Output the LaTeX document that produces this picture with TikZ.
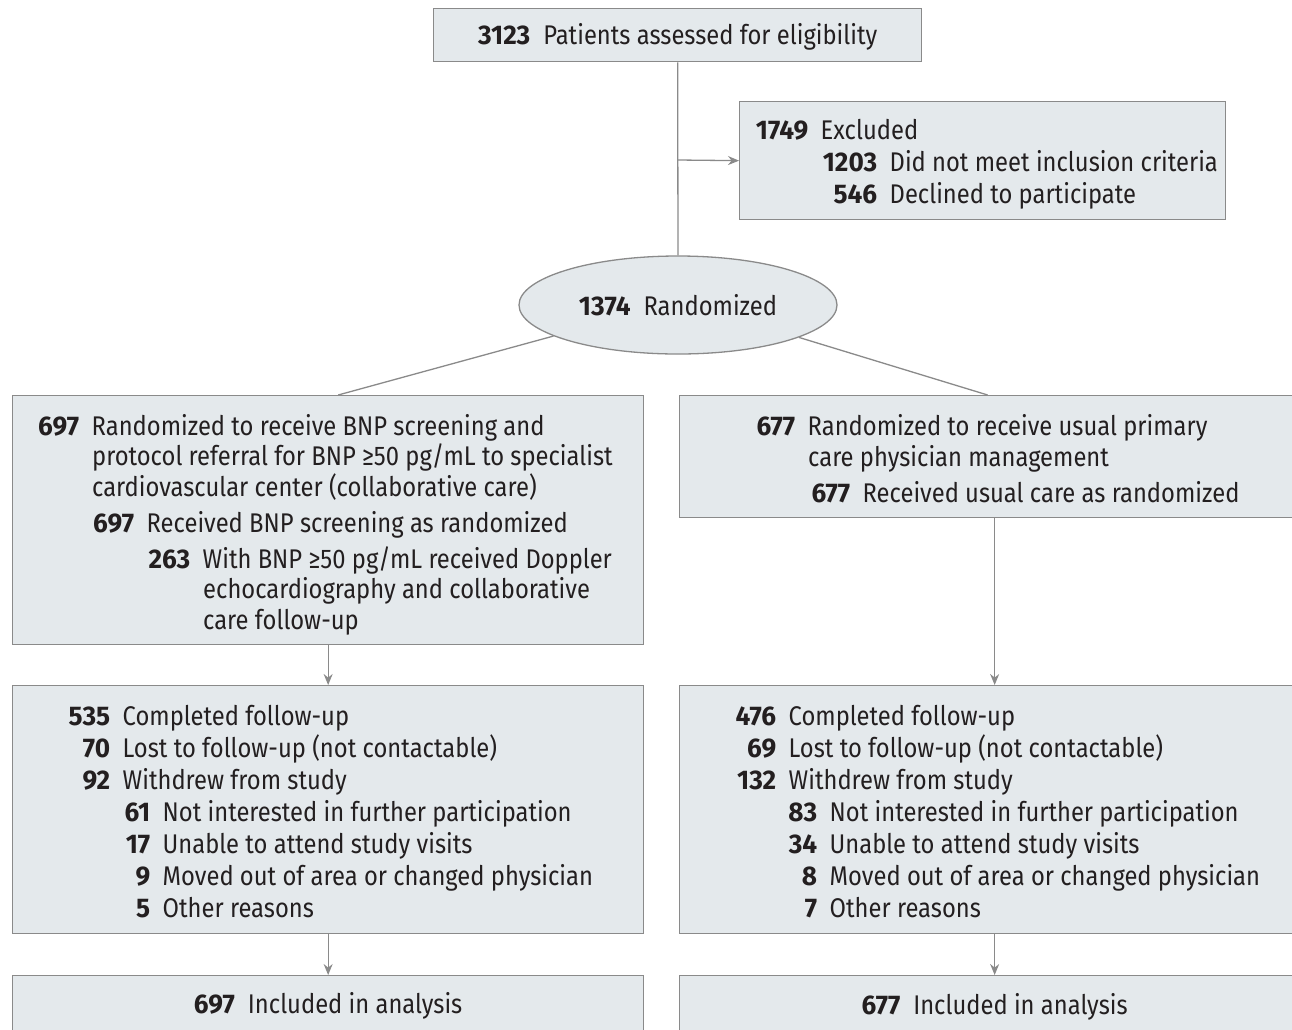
\documentclass[tikz,border=0pt]{standalone}
\usepackage{fontspec}
\setmainfont[FakeStretch=0.88]{Fira Sans}
\newfontfamily\numfont[FakeStretch=0.97]{Fira Sans}
\usetikzlibrary{arrows.meta,shapes.geometric}
\definecolor{boxfill}{HTML}{E4E9EC}
\definecolor{edgegray}{HTML}{8A8A8A}
\definecolor{ink}{HTML}{231F20}
\newcommand{\Nb}[1]{{\numfont\bfseries #1}}
\newcommand{\En}[2]{\makebox[#1][r]{\Nb{#2}}\hspace{12.5pt}}
\newcommand{\Ct}[1]{\hspace*{#1}}
\newcommand{\Lower}[2]{\raisebox{-#1}[\height][\depth]{#2}}
\begin{document}
\begin{tikzpicture}[x=1pt,y=-1pt,
  font=\fontsize{27}{32}\selectfont, text=ink,
  box/.style={draw=edgegray, fill=boxfill, line width=1.3pt, inner sep=0pt, anchor=north west},
  conn/.style={draw=edgegray, line width=1.3pt},
  arr/.style={conn, -{Stealth[length=11pt,width=9pt]}},
  txt/.style={anchor=west, align=left, inner sep=0pt}]
\useasboundingbox (0,0) rectangle (1292,1029);
\clip (0,0) rectangle (1292,1029);

% boxes
\node[box, minimum width=488pt, minimum height=53pt] (top) at (433,8)
  {\Lower{2pt}{\Nb{3123}\hspace{13pt}Patients assessed for eligibility}};
\node[box, minimum width=486pt, minimum height=118pt] (excl) at (739,101) {};
\node[draw=edgegray, fill=boxfill, line width=1.3pt, ellipse, inner sep=0pt,
  minimum width=318pt, minimum height=98pt] (rand) at (678,305)
  {\Nb{1374}\hspace{13pt}Randomized};
\node[box, minimum width=631pt, minimum height=249pt] (L1) at (12,395) {};
\node[box, minimum width=630pt, minimum height=122pt] (R1) at (679,395) {};
\node[box, minimum width=631pt, minimum height=248pt] (L2) at (12,685) {};
\node[box, minimum width=630pt, minimum height=248pt] (R2) at (679,685) {};
\node[box, minimum width=631pt, minimum height=60pt] (L3) at (12,975)
  {\Nb{697}\hspace{13pt}Included in analysis};
\node[box, minimum width=630pt, minimum height=62pt] (R3) at (679,975)
  {\Nb{677}\hspace{13pt}Included in analysis};

% texts
\node[txt] (exclt) at (751,164)
  {\En{57pt}{1749}Excluded\\
   \En{126pt}{1203}Did not meet inclusion criteria\\
   \En{126pt}{546}Declined to participate};
\node[txt, font=\fontsize{27}{30.5}\selectfont] (L1t) at (37,524.5)
  {\En{42pt}{697}Randomized to receive BNP screening and\\
   \Ct{55pt}protocol referral for BNP ≥50 pg/mL to specialist\\
   \Ct{55pt}cardiovascular center (collaborative care)\\[5.5pt]
   \En{97pt}{697}Received BNP screening as randomized\\[5.5pt]
   \En{153pt}{263}With BNP ≥50 pg/mL received Doppler\\
   \Ct{166pt}echocardiography and collaborative\\
   \Ct{166pt}care follow-up};
\node[txt, font=\fontsize{27}{30.5}\selectfont] (R1t) at (753,458.5)
  {\En{42pt}{677}Randomized to receive usual primary\\
   \Ct{55pt}care physician management\\[5.5pt]
   \En{97pt}{677}Received usual care as randomized};
\node[txt] (L2t) at (68,812)
  {\En{42pt}{535}Completed follow-up\\
   \En{42pt}{70}Lost to follow-up (not contactable)\\
   \En{42pt}{92}Withdrew from study\\
   \En{82pt}{61}Not interested in further participation\\
   \En{82pt}{17}Unable to attend study visits\\
   \En{82pt}{9}Moved out of area or changed physician\\
   \En{82pt}{5}Other reasons};
\node[txt] (R2t) at (734,812)
  {\En{42pt}{476}Completed follow-up\\
   \En{42pt}{69}Lost to follow-up (not contactable)\\
   \En{42pt}{132}Withdrew from study\\
   \En{83pt}{83}Not interested in further participation\\
   \En{83pt}{34}Unable to attend study visits\\
   \En{83pt}{8}Moved out of area or changed physician\\
   \En{83pt}{7}Other reasons};

% connectors
\coordinate (j) at (678,160);
\draw[conn] (top.south) -- (rand.north);
\draw[arr] (j) -- (excl.west);
\draw[conn] (rand.194) -- ([xshift=10pt]L1.north);
\draw[conn] (rand.-15) -- ([xshift=-7pt]R1.north);
\draw[arr] (L1.south) -- (L2.north);
\draw[arr] (R1.south) -- (R2.north);
\draw[arr] (L2.south) -- (L3.north);
\draw[arr] (R2.south) -- (R3.north);
\end{tikzpicture}
\end{document}
